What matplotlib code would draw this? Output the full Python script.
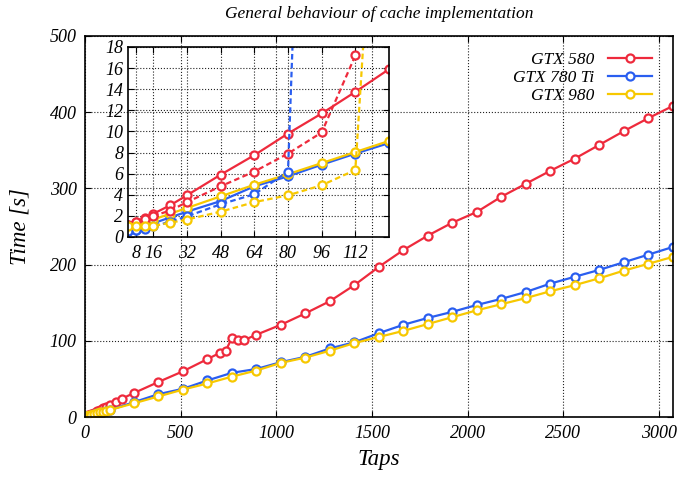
import matplotlib.pyplot as plt

plt.rcParams['font.family'] = ['Liberation Serif', 'DejaVu Serif']
plt.rcParams['font.style'] = 'italic'

# taps for the small sizes (shared by every series and shown in the inset)
taps_small = [4, 8, 12, 16, 24, 32, 48, 64, 80, 96, 112, 128]

gtx580_small = [1.1, 1.4, 1.8, 2.2, 3.0, 3.95, 5.9, 7.75, 9.8, 11.7, 13.75, 15.9]
gtx780_small = [0.6, 0.7, 0.9, 1.3, 1.85, 2.4, 3.4, 4.8, 5.75, 6.85, 7.9, 8.9]
gtx980_small = [1.0, 1.1, 1.25, 1.65, 2.2, 2.75, 3.85, 4.95, 5.95, 7.0, 8.05, 9.1]

# dashed curves that only appear in the inset
taps_580_alt = [4, 8, 12, 16, 24, 32, 48, 64, 80, 96, 112]
gtx580_alt = [1.1, 1.4, 1.7, 2.0, 2.5, 3.3, 4.8, 6.2, 7.9, 9.9, 17.2]
taps_780_alt = [4, 8, 12, 16, 24, 32, 48, 64, 80, 96]
gtx780_alt = [0.6, 0.7, 0.8, 1.0, 1.45, 1.95, 3.1, 4.05, 6.2, 95.0]
taps_980_alt = [4, 8, 12, 16, 24, 32, 48, 64, 80, 96, 112, 128]
gtx980_alt = [1.0, 1.05, 1.05, 1.05, 1.35, 1.65, 2.4, 3.3, 3.95, 4.9, 6.35, 57.0]

# larger sizes
taps_580_big = [160, 192, 256, 384, 512, 640, 704, 736, 768, 800, 832, 896,
                1024, 1152, 1280, 1408, 1536, 1664, 1792, 1920, 2048, 2176,
                2304, 2432, 2560, 2688, 2816, 2944, 3072]
gtx580_big = [20, 24, 31.5, 46, 60, 76, 84, 87, 104, 101, 101, 108,
              121, 136, 152, 173, 197, 219, 238, 255, 269, 289,
              306, 323, 339, 357, 375, 392, 408]
taps_big = [256, 384, 512, 640, 768, 896, 1024, 1152, 1280, 1408, 1536, 1664,
            1792, 1920, 2048, 2176, 2304, 2432, 2560, 2688, 2816, 2944, 3072]
gtx780_big = [19.5, 30, 37, 48, 58, 63, 72, 79, 90, 98, 110, 121,
              130, 138, 147, 155, 164, 175, 184, 193, 203, 213, 223]
gtx980_big = [18, 27, 36, 44, 53, 61, 71, 78, 87, 97, 105, 113,
              122, 131, 140, 148, 156, 165, 173, 182, 192, 201, 210]

labels = ['GTX 580', 'GTX 780 Ti', 'GTX 980']
colors = ['#ee2a3c', '#2a5ef0', '#f7c800']

series = [
    (taps_small + taps_580_big, gtx580_small + gtx580_big),
    (taps_small + taps_big, gtx780_small + gtx780_big),
    (taps_small + taps_big, gtx980_small + gtx980_big),
]
alt_series = [(taps_580_alt, gtx580_alt), (taps_780_alt, gtx780_alt),
              (taps_980_alt, gtx980_alt)]

style = dict(marker='o', markersize=5.8, markerfacecolor='white',
             markeredgewidth=1.6, linewidth=1.6)

fig = plt.figure(figsize=(6.78, 4.78), dpi=100)
ax = fig.add_axes([0.1254, 0.1276, 0.8666, 0.7971])

for (x, y), lab, c in zip(series, labels, colors):
    ax.plot(x, y, color=c, markeredgecolor=c, label=lab, **style)

ax.set_xlim(0, 3072)
ax.set_ylim(0, 500)
ax.set_xticks(range(0, 3001, 500))
ax.set_yticks(range(0, 501, 100))
ax.tick_params(direction='in', top=True, right=True, labelsize=13, length=4)
ax.tick_params(axis='x', pad=6)
ax.tick_params(axis='y', pad=6)
ax.grid(True, linestyle=':', color='#222222', linewidth=0.8)
ax.set_xlabel('Taps', fontsize=16.5, labelpad=5)
ax.set_ylabel('Time [s]', fontsize=16.5, labelpad=14)
ax.set_title('General behaviour of cache implementation', fontsize=12.5, pad=13)
for s in ax.spines.values():
    s.set_linewidth(1.2)

leg = ax.legend(loc='upper right', markerfirst=False, frameon=False,
                fontsize=12.5, handlelength=2.5, labelspacing=0.1,
                borderaxespad=0.3, bbox_to_anchor=(0.985, 0.99))

# inset
ins = fig.add_axes([0.1888, 0.5042, 0.385, 0.3975])
ins.patch.set_alpha(0)
for (x, y), c in zip(series, colors):
    ins.plot(x, y, color=c, markeredgecolor=c, **style)
for (x, y), c in zip(alt_series, colors):
    ins.plot(x, y, color=c, markeredgecolor=c, linestyle=(0, (2.5, 1.5)),
             **style)
ins.set_xlim(4, 128)
ins.set_ylim(0, 18)
ins.set_xticks([8, 16, 32, 48, 64, 80, 96, 112])
ins.set_yticks(range(0, 19, 2))
ins.tick_params(direction='in', top=True, right=True, labelsize=13, length=4)
ins.tick_params(axis='x', pad=6)
ins.grid(True, linestyle=':', color='#222222', linewidth=0.8)
for s in ins.spines.values():
    s.set_linewidth(1.2)

plt.savefig('out.png', dpi=100)
